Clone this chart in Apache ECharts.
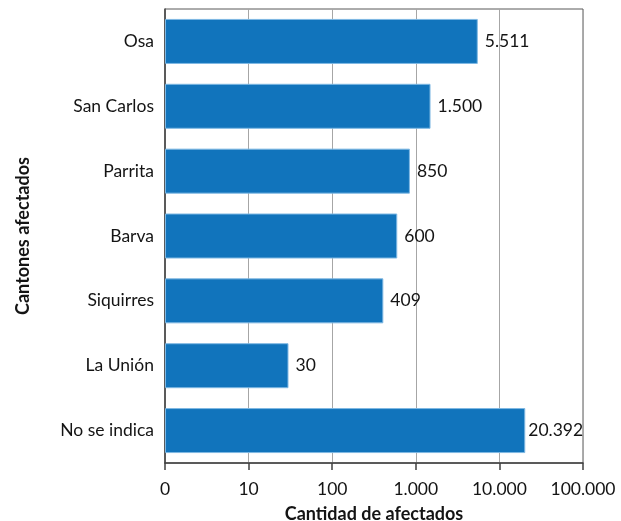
<!DOCTYPE html>
<html>
<head>
<meta charset="utf-8">
<script src="https://cdn.jsdelivr.net/npm/echarts@6/dist/echarts.min.js"></script>
<style>
  html, body { margin: 0; padding: 0; background: #fff; }
  #chart { width: 621px; height: 521px; }
</style>
</head>
<body>
<div id="chart"></div>
<script>
// Cantones afectados y cantidad de personas afectadas (escala logarítmica)
const cantones = ['Osa', 'San Carlos', 'Parrita', 'Barva', 'Siquirres', 'La Unión', 'No se indica'];
const afectados = [5511, 1500, 850, 600, 409, 30, 20392];
const xTicks = [1, 10, 100, 1000, 10000, 100000];

const FONT = 'Lato, "Noto Sans", sans-serif';
const TEXT = '#141414';

// Número con punto como separador de miles; el 1 del eje se rotula como 0
function miles(v) {
  const n = Math.round(v);
  return String(n).replace(/\B(?=(\d{3})+(?!\d))/g, '.');
}

const chart = echarts.init(document.getElementById('chart'), null, { renderer: 'canvas' });

const barData = afectados.map((v, i) =>
  i === afectados.length - 1 ? { value: v, label: { distance: 3 } } : v
);

chart.setOption({
  animation: false,
  backgroundColor: '#ffffff',
  grid: {
    left: 165, right: 38, top: 9, bottom: 58,
    outerBoundsMode: 'none',
    show: true, borderColor: '#595959', borderWidth: 1,
    containLabel: false
  },
  xAxis: {
    type: 'log',
    logBase: 10,
    min: xTicks[0],
    max: xTicks[xTicks.length - 1],
    name: 'Cantidad de afectados',
    nameLocation: 'middle',
    nameGap: 42,
    nameTextStyle: { fontFamily: FONT, fontSize: 18, fontWeight: 'bold', color: TEXT },
    axisLine: { show: true, lineStyle: { color: '#404040', width: 1.5 } },
    axisTick: { show: true, length: 7, inside: false, lineStyle: { color: '#404040', width: 1.5 } },
    axisLabel: {
      margin: 17,
      fontFamily: FONT, fontSize: 17.5, color: TEXT,
      formatter: v => (Math.round(v) === 1 ? '0' : miles(v))
    },
    splitLine: { show: true, lineStyle: { color: '#a6a6a6', width: 1 } }
  },
  yAxis: {
    type: 'category',
    data: cantones,
    inverse: true,
    name: 'Cantones afectados',
    nameLocation: 'middle',
    nameGap: 133,
    nameRotate: 90,
    nameTextStyle: { fontFamily: FONT, fontSize: 18, fontWeight: 'bold', color: TEXT },
    axisLine: { show: true, lineStyle: { color: '#404040', width: 1.5 } },
    axisTick: { show: false },
    axisLabel: { margin: 11, fontFamily: FONT, fontSize: 17.5, color: TEXT },
    splitLine: { show: false }
  },
  series: [{
    type: 'bar',
    data: barData,
    barWidth: 45,
    itemStyle: { color: '#1174bc', borderColor: '#7fb8e3', borderWidth: 1 },
    label: {
      show: true,
      position: 'right',
      distance: 7,
      fontFamily: FONT, fontSize: 17.5, color: TEXT,
      formatter: p => miles(p.value)
    }
  }]
});
</script>
</body>
</html>
